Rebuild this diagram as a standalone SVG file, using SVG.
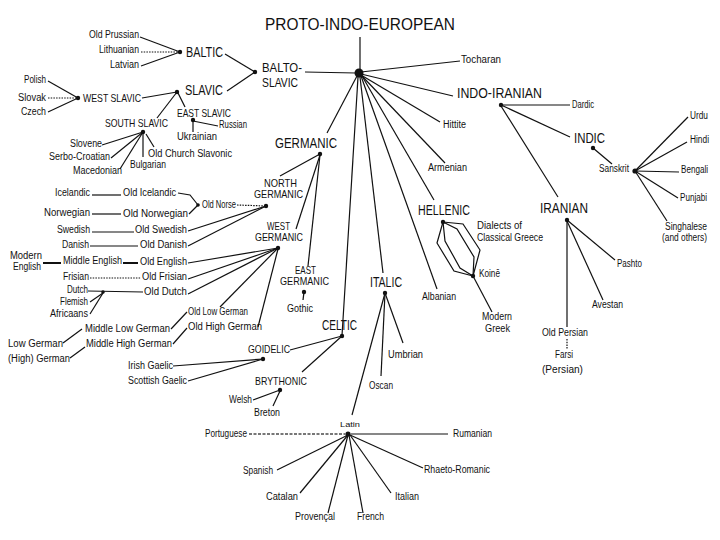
<svg xmlns="http://www.w3.org/2000/svg" width="720" height="540" viewBox="0 0 720 540">
<style>
text{font-family:"Liberation Sans",Arial,sans-serif;fill:#111}
.s{font-size:10px}
.x{font-size:8px}
.m{font-size:10.5px}
.l{font-size:14px}
.b{font-size:13px}
.t{font-size:17px}
#connectors line,#connectors polyline{stroke:#111;stroke-width:1.2;fill:none}
#connectors .dot{stroke-dasharray:1.5 1.2}
#connectors .thick{stroke-width:2}
#connectors .gray{stroke:#777;stroke-width:2;stroke-dasharray:3 1.5}
circle{fill:#111}
</style>
<rect width="720" height="540" fill="#fff"/>
<g id="connectors">
<line x1="140" y1="37" x2="180" y2="52"/>
<line class="dot" x1="141" y1="52" x2="180" y2="52"/>
<line x1="141" y1="66" x2="180" y2="52"/>
<line x1="225" y1="54" x2="255" y2="72"/>
<line x1="227" y1="91" x2="255" y2="72"/>
<line x1="305" y1="72" x2="356" y2="73"/>
<line x1="48" y1="81" x2="78" y2="98"/>
<line class="dot" x1="48" y1="98" x2="78" y2="98"/>
<line x1="48" y1="112" x2="78" y2="98"/>
<line x1="142" y1="98" x2="177" y2="92"/>
<line x1="177" y1="92" x2="157" y2="118"/>
<line x1="178" y1="93" x2="185" y2="107"/>
<line x1="193" y1="120" x2="193" y2="132"/>
<line x1="193" y1="121" x2="218" y2="126"/>
<line x1="102" y1="145" x2="143" y2="132"/>
<line x1="111" y1="158" x2="143" y2="132"/>
<line x1="120" y1="169" x2="143" y2="132"/>
<line x1="143" y1="132" x2="143" y2="157"/>
<line x1="146" y1="134" x2="154" y2="147"/>
<line x1="360" y1="37" x2="360" y2="73"/>
<line x1="361" y1="72" x2="460" y2="61"/>
<line x1="361" y1="74" x2="453" y2="96"/>
<line x1="361" y1="75" x2="440" y2="122"/>
<line x1="361" y1="75" x2="445" y2="163"/>
<line x1="362" y1="76" x2="434" y2="200"/>
<line x1="361" y1="76" x2="437" y2="289"/>
<line x1="360" y1="77" x2="383" y2="273"/>
<line x1="358" y1="77" x2="342" y2="336"/>
<line x1="357" y1="76" x2="327" y2="133"/>
<line x1="320" y1="154" x2="280" y2="176"/>
<line x1="320" y1="155" x2="296" y2="229"/>
<line x1="320" y1="155" x2="308" y2="266"/>
<line class="dot" x1="237" y1="205" x2="266" y2="206"/>
<line x1="188" y1="231" x2="266" y2="206"/>
<line x1="188" y1="246" x2="266" y2="206"/>
<polyline points="178,193 190,195 198,205"/>
<line x1="189" y1="214" x2="198" y2="205"/>
<line x1="188" y1="263" x2="278" y2="248"/>
<line x1="188" y1="279" x2="278" y2="248"/>
<line x1="188" y1="294" x2="278" y2="248"/>
<line x1="220" y1="307" x2="278" y2="248"/>
<line x1="258" y1="327" x2="278" y2="249"/>
<line x1="187" y1="312" x2="171" y2="329"/>
<line x1="187" y1="328" x2="173" y2="344"/>
<line x1="63" y1="343" x2="82" y2="329"/>
<line x1="70" y1="358" x2="85" y2="347"/>
<line x1="92" y1="195" x2="121" y2="195"/>
<line x1="92" y1="214" x2="121" y2="214"/>
<line x1="92" y1="232" x2="134" y2="232"/>
<line x1="90" y1="246" x2="138" y2="246"/>
<line class="thick" x1="43" y1="263" x2="61" y2="263"/>
<line class="thick" x1="123" y1="263" x2="138" y2="263"/>
<line class="dot" x1="90" y1="278" x2="141" y2="278"/>
<line x1="88" y1="291" x2="143" y2="292"/>
<line x1="90" y1="302" x2="103" y2="293"/>
<line x1="90" y1="314" x2="103" y2="293"/>
<line x1="304" y1="292" x2="303" y2="300"/>
<line x1="342" y1="336" x2="290" y2="350"/>
<line x1="342" y1="336" x2="302" y2="372"/>
<line x1="173" y1="366" x2="263" y2="359"/>
<line x1="188" y1="381" x2="263" y2="359"/>
<line x1="253" y1="400" x2="280" y2="390"/>
<line x1="273" y1="406" x2="280" y2="391"/>
<line x1="385" y1="293" x2="403" y2="343"/>
<line x1="385" y1="293" x2="381" y2="376"/>
<line x1="385" y1="293" x2="352" y2="415"/>
<line class="gray" x1="249" y1="434" x2="345" y2="434"/>
<line x1="351" y1="434" x2="448" y2="434"/>
<line x1="348" y1="435" x2="277" y2="470"/>
<line x1="348" y1="435" x2="300" y2="493"/>
<line x1="348" y1="435" x2="328" y2="513"/>
<line x1="349" y1="435" x2="363" y2="513"/>
<line x1="350" y1="435" x2="391" y2="493"/>
<line x1="350" y1="435" x2="423" y2="468"/>
<polyline points="443,222 463,224 480,250 473,276"/>
<polyline points="443,222 457,229 474,257 473,276"/>
<polyline points="443,222 445,241 460,268 473,276"/>
<polyline points="443,222 437,243 454,271 473,276"/>
<line x1="473" y1="276" x2="492" y2="312"/>
<line x1="501" y1="105" x2="570" y2="105"/>
<line x1="501" y1="105" x2="570" y2="137"/>
<line x1="501" y1="106" x2="558" y2="197"/>
<line x1="593" y1="148" x2="612" y2="164"/>
<line x1="635" y1="171" x2="688" y2="117"/>
<line x1="635" y1="171" x2="687" y2="142"/>
<line x1="635" y1="171" x2="679" y2="172"/>
<line x1="635" y1="171" x2="678" y2="198"/>
<line x1="635" y1="171" x2="667" y2="221"/>
<line x1="567" y1="220" x2="615" y2="260"/>
<line x1="567" y1="221" x2="603" y2="300"/>
<line x1="567" y1="220" x2="567" y2="327"/>
<line class="dot" x1="567" y1="339" x2="567" y2="349"/>
</g>

<g id="pie"><text class="t" x="265" y="30" textLength="190" lengthAdjust="spacingAndGlyphs">PROTO-INDO-EUROPEAN</text><circle cx="359" cy="73" r="4.5"/></g>
<g id="balto-slavic"><text class="b" x="262" y="72" textLength="40" lengthAdjust="spacingAndGlyphs">BALTO-</text><text class="b" x="262" y="87" textLength="36" lengthAdjust="spacingAndGlyphs">SLAVIC</text><circle cx="255" cy="72" r="2.2"/></g>
<g id="baltic"><text class="l" x="186" y="57" textLength="37" lengthAdjust="spacingAndGlyphs">BALTIC</text><circle cx="180" cy="52" r="2.2"/></g>
<g id="old-prussian"><text class="s" x="89" y="38" textLength="50" lengthAdjust="spacingAndGlyphs">Old Prussian</text></g>
<g id="lithuanian"><text class="s" x="99" y="53" textLength="40" lengthAdjust="spacingAndGlyphs">Lithuanian</text></g>
<g id="latvian"><text class="s" x="110" y="68" textLength="29" lengthAdjust="spacingAndGlyphs">Latvian</text></g>
<g id="slavic"><text class="l" x="185" y="95" textLength="38" lengthAdjust="spacingAndGlyphs">SLAVIC</text><circle cx="177" cy="92" r="2.2"/></g>
<g id="west-slavic"><text class="m" x="83" y="102" textLength="58" lengthAdjust="spacingAndGlyphs">WEST SLAVIC</text><circle cx="78" cy="98" r="2.2"/></g>
<g id="polish"><text class="s" x="24" y="83" textLength="22" lengthAdjust="spacingAndGlyphs">Polish</text></g>
<g id="slovak"><text class="s" x="18" y="101" textLength="28" lengthAdjust="spacingAndGlyphs">Slovak</text></g>
<g id="czech"><text class="s" x="21" y="115" textLength="25" lengthAdjust="spacingAndGlyphs">Czech</text></g>
<g id="east-slavic"><text class="m" x="177" y="117" textLength="54" lengthAdjust="spacingAndGlyphs">EAST SLAVIC</text><circle cx="193" cy="120" r="2.2"/></g>
<g id="russian"><text class="s" x="219" y="128" textLength="28" lengthAdjust="spacingAndGlyphs">Russian</text></g>
<g id="ukrainian"><text class="s" x="177" y="140" textLength="40" lengthAdjust="spacingAndGlyphs">Ukrainian</text></g>
<g id="south-slavic"><text class="m" x="105" y="127" textLength="63" lengthAdjust="spacingAndGlyphs">SOUTH SLAVIC</text><circle cx="143" cy="132" r="2.2"/></g>
<g id="slovene"><text class="s" x="70" y="147" textLength="32" lengthAdjust="spacingAndGlyphs">Slovene</text></g>
<g id="serbo-croatian"><text class="s" x="49" y="160" textLength="61" lengthAdjust="spacingAndGlyphs">Serbo-Croatian</text></g>
<g id="macedonian"><text class="s" x="73" y="174" textLength="49" lengthAdjust="spacingAndGlyphs">Macedonian</text></g>
<g id="bulgarian"><text class="s" x="130" y="168" textLength="36" lengthAdjust="spacingAndGlyphs">Bulgarian</text></g>
<g id="old-church-slavonic"><text class="s" x="148" y="157" textLength="84" lengthAdjust="spacingAndGlyphs">Old Church Slavonic</text></g>

<g id="germanic"><text class="l" x="275" y="148" textLength="62" lengthAdjust="spacingAndGlyphs">GERMANIC</text><circle cx="320" cy="154" r="2.2"/></g>
<g id="north-germanic"><text class="m" x="264" y="187" textLength="33" lengthAdjust="spacingAndGlyphs">NORTH</text><text class="m" x="254" y="198" textLength="49" lengthAdjust="spacingAndGlyphs">GERMANIC</text><circle cx="266" cy="206" r="2.2"/></g>
<g id="west-germanic"><text class="m" x="267" y="230" textLength="23" lengthAdjust="spacingAndGlyphs">WEST</text><text class="m" x="255" y="241" textLength="48" lengthAdjust="spacingAndGlyphs">GERMANIC</text><circle cx="278" cy="248" r="2.2"/></g>
<g id="east-germanic"><text class="m" x="295" y="274" textLength="21" lengthAdjust="spacingAndGlyphs">EAST</text><text class="m" x="280" y="285" textLength="49" lengthAdjust="spacingAndGlyphs">GERMANIC</text><circle cx="304" cy="292" r="2.2"/></g>
<g id="gothic"><text class="s" x="287" y="312" textLength="26" lengthAdjust="spacingAndGlyphs">Gothic</text></g>
<g id="old-norse"><text class="m" x="202" y="208" textLength="34" lengthAdjust="spacingAndGlyphs">Old Norse</text><circle cx="198" cy="205" r="1.8"/></g>
<g id="icelandic"><text class="s" x="55" y="196" textLength="35" lengthAdjust="spacingAndGlyphs">Icelandic</text></g>
<g id="old-icelandic"><text class="s" x="123" y="196" textLength="53" lengthAdjust="spacingAndGlyphs">Old Icelandic</text></g>
<g id="norwegian"><text class="s" x="44" y="216" textLength="46" lengthAdjust="spacingAndGlyphs">Norwegian</text></g>
<g id="old-norwegian"><text class="s" x="123" y="217" textLength="65" lengthAdjust="spacingAndGlyphs">Old Norwegian</text></g>
<g id="swedish"><text class="s" x="57" y="233" textLength="33" lengthAdjust="spacingAndGlyphs">Swedish</text></g>
<g id="old-swedish"><text class="s" x="135" y="233" textLength="52" lengthAdjust="spacingAndGlyphs">Old Swedish</text></g>
<g id="danish"><text class="s" x="62" y="248" textLength="27" lengthAdjust="spacingAndGlyphs">Danish</text></g>
<g id="old-danish"><text class="s" x="140" y="248" textLength="47" lengthAdjust="spacingAndGlyphs">Old Danish</text></g>
<g id="modern-english"><text class="s" x="10" y="259" textLength="32" lengthAdjust="spacingAndGlyphs">Modern</text><text class="s" x="13" y="270" textLength="28" lengthAdjust="spacingAndGlyphs">English</text></g>
<g id="middle-english"><text class="s" x="63" y="264" textLength="59" lengthAdjust="spacingAndGlyphs">Middle English</text></g>
<g id="old-english"><text class="s" x="140" y="265" textLength="47" lengthAdjust="spacingAndGlyphs">Old English</text></g>
<g id="frisian"><text class="s" x="63" y="280" textLength="26" lengthAdjust="spacingAndGlyphs">Frisian</text></g>
<g id="old-frisian"><text class="s" x="142" y="280" textLength="45" lengthAdjust="spacingAndGlyphs">Old Frisian</text></g>
<g id="dutch"><text class="s" x="67" y="293" textLength="21" lengthAdjust="spacingAndGlyphs">Dutch</text><circle cx="103" cy="292" r="1.8"/></g>
<g id="old-dutch"><text class="s" x="144" y="295" textLength="43" lengthAdjust="spacingAndGlyphs">Old Dutch</text></g>
<g id="flemish"><text class="s" x="60" y="305" textLength="28" lengthAdjust="spacingAndGlyphs">Flemish</text></g>
<g id="africaans"><text class="s" x="50" y="317" textLength="38" lengthAdjust="spacingAndGlyphs">Africaans</text></g>
<g id="old-low-german"><text class="s" x="188" y="315" textLength="60" lengthAdjust="spacingAndGlyphs">Old Low German</text></g>
<g id="old-high-german"><text class="s" x="188" y="330" textLength="74" lengthAdjust="spacingAndGlyphs">Old High German</text></g>
<g id="middle-low-german"><text class="s" x="85" y="332" textLength="85" lengthAdjust="spacingAndGlyphs">Middle Low German</text></g>
<g id="middle-high-german"><text class="s" x="86" y="347" textLength="86" lengthAdjust="spacingAndGlyphs">Middle High German</text></g>
<g id="low-german"><text class="s" x="8" y="347" textLength="55" lengthAdjust="spacingAndGlyphs">Low German</text></g>
<g id="high-german"><text class="s" x="8" y="362" textLength="62" lengthAdjust="spacingAndGlyphs">(High) German</text></g>

<g id="celtic"><text class="l" x="322" y="330" textLength="35" lengthAdjust="spacingAndGlyphs">CELTIC</text><circle cx="342" cy="336" r="2.2"/></g>
<g id="goidelic"><text class="m" x="248" y="353" textLength="42" lengthAdjust="spacingAndGlyphs">GOIDELIC</text><circle cx="263" cy="359" r="2.2"/></g>
<g id="brythonic"><text class="m" x="255" y="385" textLength="52" lengthAdjust="spacingAndGlyphs">BRYTHONIC</text><circle cx="280" cy="390" r="2.2"/></g>
<g id="irish-gaelic"><text class="s" x="128" y="369" textLength="45" lengthAdjust="spacingAndGlyphs">Irish Gaelic</text></g>
<g id="scottish-gaelic"><text class="s" x="128" y="384" textLength="59" lengthAdjust="spacingAndGlyphs">Scottish Gaelic</text></g>
<g id="welsh"><text class="s" x="229" y="403" textLength="23" lengthAdjust="spacingAndGlyphs">Welsh</text></g>
<g id="breton"><text class="s" x="254" y="416" textLength="26" lengthAdjust="spacingAndGlyphs">Breton</text></g>

<g id="italic"><text class="l" x="370" y="287" textLength="32" lengthAdjust="spacingAndGlyphs">ITALIC</text><circle cx="385" cy="293" r="2.2"/></g>
<g id="umbrian"><text class="s" x="388" y="358" textLength="35" lengthAdjust="spacingAndGlyphs">Umbrian</text></g>
<g id="oscan"><text class="s" x="369" y="389" textLength="24" lengthAdjust="spacingAndGlyphs">Oscan</text></g>
<g id="latin"><text class="x" x="340" y="427" textLength="20" lengthAdjust="spacingAndGlyphs">Latin</text><circle cx="348" cy="434" r="2.6"/></g>
<g id="portuguese"><text class="s" x="205" y="437" textLength="42" lengthAdjust="spacingAndGlyphs">Portuguese</text></g>
<g id="rumanian"><text class="s" x="453" y="437" textLength="39" lengthAdjust="spacingAndGlyphs">Rumanian</text></g>
<g id="spanish"><text class="s" x="243" y="474" textLength="30" lengthAdjust="spacingAndGlyphs">Spanish</text></g>
<g id="catalan"><text class="s" x="266" y="500" textLength="32" lengthAdjust="spacingAndGlyphs">Catalan</text></g>
<g id="provencal"><text class="s" x="295" y="520" textLength="40" lengthAdjust="spacingAndGlyphs">Provençal</text></g>
<g id="french"><text class="s" x="357" y="520" textLength="27" lengthAdjust="spacingAndGlyphs">French</text></g>
<g id="italian"><text class="s" x="395" y="500" textLength="24" lengthAdjust="spacingAndGlyphs">Italian</text></g>
<g id="rhaeto-romanic"><text class="s" x="424" y="473" textLength="66" lengthAdjust="spacingAndGlyphs">Rhaeto-Romanic</text></g>

<g id="tocharan"><text class="s" x="461" y="63" textLength="40" lengthAdjust="spacingAndGlyphs">Tocharan</text></g>
<g id="hittite"><text class="s" x="443" y="128" textLength="23" lengthAdjust="spacingAndGlyphs">Hittite</text></g>
<g id="armenian"><text class="s" x="428" y="171" textLength="39" lengthAdjust="spacingAndGlyphs">Armenian</text></g>
<g id="albanian"><text class="s" x="422" y="300" textLength="34" lengthAdjust="spacingAndGlyphs">Albanian</text></g>
<g id="hellenic"><text class="l" x="418" y="215" textLength="52" lengthAdjust="spacingAndGlyphs">HELLENIC</text><circle cx="443" cy="222" r="2.2"/></g>
<g id="classical-greece"><text class="s" x="477" y="229" textLength="45" lengthAdjust="spacingAndGlyphs">Dialects of</text><text class="s" x="477" y="241" textLength="66" lengthAdjust="spacingAndGlyphs">Classical Greece</text></g>
<g id="koine"><text class="s" x="479" y="277" textLength="21" lengthAdjust="spacingAndGlyphs">Koinē</text><circle cx="473" cy="276" r="2.2"/></g>
<g id="modern-greek"><text class="s" x="482" y="320" textLength="30" lengthAdjust="spacingAndGlyphs">Modern</text><text class="s" x="485" y="332" textLength="25" lengthAdjust="spacingAndGlyphs">Greek</text></g>

<g id="indo-iranian"><text class="l" x="457" y="98" textLength="85" lengthAdjust="spacingAndGlyphs">INDO-IRANIAN</text><circle cx="501" cy="105" r="2.2"/></g>
<g id="dardic"><text class="s" x="572" y="108" textLength="22" lengthAdjust="spacingAndGlyphs">Dardic</text></g>
<g id="indic"><text class="l" x="574" y="143" textLength="31" lengthAdjust="spacingAndGlyphs">INDIC</text><circle cx="593" cy="148" r="2.2"/></g>
<g id="sanskrit"><text class="s" x="599" y="172" textLength="30" lengthAdjust="spacingAndGlyphs">Sanskrit</text><circle cx="635" cy="171" r="2.6"/></g>
<g id="urdu"><text class="s" x="690" y="119" textLength="18" lengthAdjust="spacingAndGlyphs">Urdu</text></g>
<g id="hindi"><text class="s" x="690" y="143" textLength="19" lengthAdjust="spacingAndGlyphs">Hindi</text></g>
<g id="bengali"><text class="s" x="681" y="173" textLength="27" lengthAdjust="spacingAndGlyphs">Bengali</text></g>
<g id="punjabi"><text class="s" x="680" y="201" textLength="27" lengthAdjust="spacingAndGlyphs">Punjabi</text></g>
<g id="singhalese"><text class="s" x="665" y="230" textLength="42" lengthAdjust="spacingAndGlyphs">Singhalese</text><text class="s" x="662" y="241" textLength="45" lengthAdjust="spacingAndGlyphs">(and others)</text></g>
<g id="iranian"><text class="l" x="540" y="213" textLength="48" lengthAdjust="spacingAndGlyphs">IRANIAN</text><circle cx="567" cy="220" r="2.2"/></g>
<g id="pashto"><text class="s" x="617" y="267" textLength="25" lengthAdjust="spacingAndGlyphs">Pashto</text></g>
<g id="avestan"><text class="s" x="592" y="308" textLength="31" lengthAdjust="spacingAndGlyphs">Avestan</text></g>
<g id="old-persian"><text class="s" x="542" y="336" textLength="46" lengthAdjust="spacingAndGlyphs">Old Persian</text></g>
<g id="farsi"><text class="s" x="555" y="358" textLength="18" lengthAdjust="spacingAndGlyphs">Farsi</text><text class="s" x="542" y="373" textLength="41" lengthAdjust="spacingAndGlyphs">(Persian)</text></g>
</svg>
